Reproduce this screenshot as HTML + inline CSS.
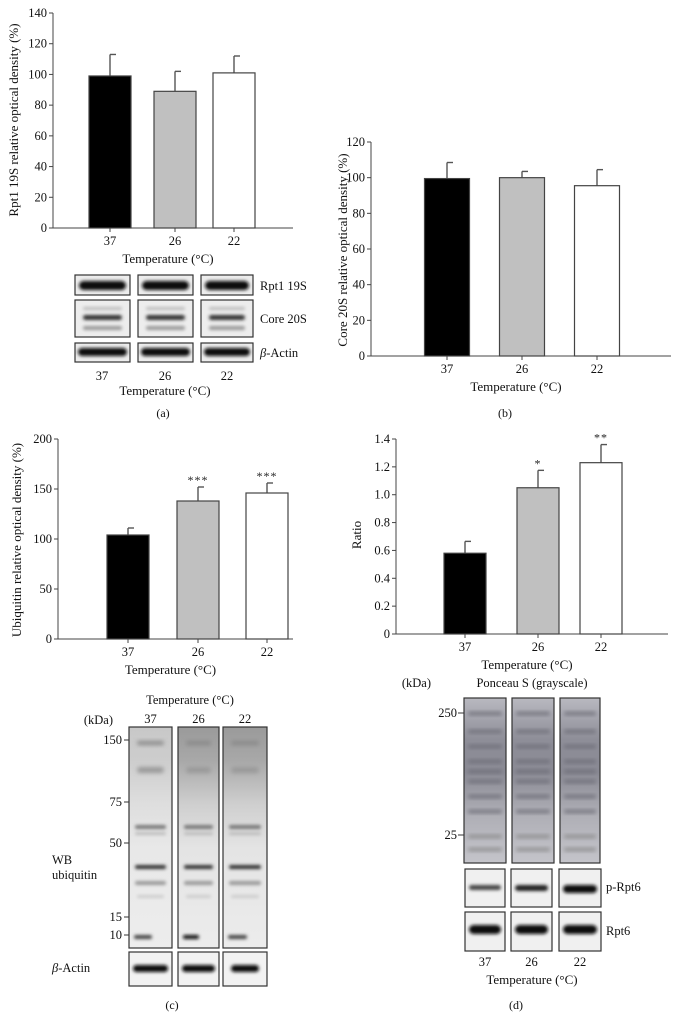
<!DOCTYPE html>
<html><head><meta charset="utf-8">
<style>
html,body{margin:0;padding:0;background:#fff;}
svg{display:block;font-family:"Liberation Serif",serif;}
</style></head>
<body>
<svg id="fig" width="680" height="1031" viewBox="0 0 680 1031" xmlns="http://www.w3.org/2000/svg">
<defs>
<filter id="blur1" x="-20%" y="-80%" width="140%" height="260%"><feGaussianBlur stdDeviation="1.5"/></filter>
<filter id="blur2" x="-20%" y="-80%" width="140%" height="260%"><feGaussianBlur stdDeviation="2.2"/></filter>
<linearGradient id="smearA" x1="0" y1="0" x2="0" y2="1">
<stop offset="0" stop-color="#c8c8c8"/><stop offset="0.15" stop-color="#cdcdcd"/><stop offset="0.35" stop-color="#dedede"/><stop offset="0.55" stop-color="#e8e8e8"/><stop offset="1" stop-color="#ededed"/></linearGradient>
<linearGradient id="smearB" x1="0" y1="0" x2="0" y2="1">
<stop offset="0" stop-color="#9a9a9a"/><stop offset="0.15" stop-color="#a8a8a8"/><stop offset="0.35" stop-color="#cfcfcf"/><stop offset="0.55" stop-color="#e4e4e4"/><stop offset="1" stop-color="#ececec"/></linearGradient>
<linearGradient id="ponc" x1="0" y1="0" x2="0" y2="1">
<stop offset="0" stop-color="#b9b9c0"/><stop offset="0.25" stop-color="#8e8e98"/><stop offset="0.45" stop-color="#8a8a94"/><stop offset="0.7" stop-color="#aeaeb5"/><stop offset="1" stop-color="#c4c4ca"/></linearGradient>
</defs>
<g id="charts"></g>
<g id="blots"></g>
</svg>
<script>
// ---- Chart data ----
const categories = ["37", "26", "22"];
const fills = ["#000000", "#c0c0c0", "#ffffff"];
const rpt1Values = [99, 89, 101];
const rpt1Errors = [14, 13, 11];
const rpt1Ticks = ["0","20","40","60","80","100","120","140"];
const core20Values = [99.5, 100, 95.5];
const core20Errors = [9, 3.5, 9];
const core20Ticks = ["0","20","40","60","80","100","120"];
const ubqValues = [104, 138, 146];
const ubqErrors = [7, 14, 10];
const ubqTicks = ["0","50","100","150","200"];
const ubqStars = ["", "***", "***"];
const ratioValues = [0.58, 1.05, 1.23];
const ratioErrors = [0.085, 0.125, 0.13];
const ratioTicks = ["0","0.2","0.4","0.6","0.8","1.0","1.2","1.4"];
const ratioStars = ["", "*", "**"];

const NS = "http://www.w3.org/2000/svg";
function mk(tag, attrs, parent, text){
  const e = document.createElementNS(NS, tag);
  for (const k in attrs) e.setAttribute(k, attrs[k]);
  if (text !== undefined) e.textContent = text;
  parent.appendChild(e);
  return e;
}
const chartsG = document.getElementById('charts');

function drawChart(o){
  const g = mk('g', {}, chartsG);
  
  
  const maxV = parseFloat(o.ticks[o.ticks.length-1]);
  const y = v => o.y0 - (v / maxV) * (o.y0 - o.yTop);
  const x = i => o.bars[i];
  const ax = mk('line', {x1:o.x0, y1:o.yTop, x2:o.x0, y2:o.y0, stroke:'#444', 'stroke-width':1}, g);
  
  
  const xa = mk('line', {x1:o.x0, y1:o.y0, x2:o.x1, y2:o.y0, stroke:'#444', 'stroke-width':1}, g);
  
  
  o.ticks.forEach(t => {
    const yy = y(parseFloat(t));
    mk('line', {x1:o.x0-4, y1:yy, x2:o.x0, y2:yy, stroke:'#444'}, g);
    const tl = mk('text', {x:o.x0-6, y:yy+4, 'font-size':12.5, 'text-anchor':'end', fill:'#111'}, g, t);
    
    
  });
  o.values.forEach((v, i) => {
    const cx = x(i), hw = o.bw/2;
    const top = y(v);
    const eb = mk('line', {x1:cx, y1:y(v + o.errors[i]), x2:cx, y2:top, stroke:'#555', 'stroke-width':1.4}, g);
    
    
    mk('line', {x1:cx, y1:y(v + o.errors[i]), x2:cx+6, y2:y(v + o.errors[i]), stroke:'#555', 'stroke-width':1.4}, g);
    const r = mk('rect', {x:cx-hw, y:top, width:o.bw, height:o.y0-top, fill:fills[i], stroke:'#444', 'stroke-width':1.2}, g);
    
    
    mk('line', {x1:cx, y1:o.y0, x2:cx, y2:o.y0+4, stroke:'#444'}, g);
    const cl = mk('text', {x:cx, y:o.y0+17, 'font-size':12.5, 'text-anchor':'middle', fill:'#111'}, g, categories[i]);
    
    
    if (o.stars && o.stars[i]) {
      const s = mk('text', {x:cx, y:y(v + o.errors[i]) - 3, 'font-size':12, 'text-anchor':'middle', fill:'#222', 'letter-spacing':'1'}, g, o.stars[i]);
      
      
    }
  });
  const xt = mk('text', {x:(o.x0+o.x1)/2 - 5, y:o.y0+35, 'font-size':13, 'text-anchor':'middle', fill:'#111'}, g, 'Temperature (°C)');
  
  
  const yt = mk('text', {x:0, y:0, 'font-size':13, 'text-anchor':'middle', fill:'#111', transform:`translate(${o.ytx},${o.yty}) rotate(-90)`}, g, o.ytitle);
  
  
}

drawChart({name:'chart-rpt1', x0:53, x1:293, y0:228, yTop:13, bars:[110,175,234], bw:42,
  values:rpt1Values, errors:rpt1Errors, ticks:rpt1Ticks, ytitle:'Rpt1 19S relative optical density (%)', ytx:18, yty:120});
drawChart({name:'chart-core20s', x0:371, x1:671, y0:356, yTop:142, bars:[447,522,597], bw:45,
  values:core20Values, errors:core20Errors, ticks:core20Ticks, ytitle:'Core 20S relative optical density (%)', ytx:347, yty:250});
drawChart({name:'chart-ubiquitin', x0:58, x1:293, y0:639, yTop:439, bars:[128,198,267], bw:42,
  values:ubqValues, errors:ubqErrors, ticks:ubqTicks, stars:ubqStars, ytitle:'Ubiquitin relative optical density (%)', ytx:21, yty:540});
drawChart({name:'chart-ratio', x0:396, x1:668, y0:634, yTop:439, bars:[465,538,601], bw:42,
  values:ratioValues, errors:ratioErrors, ticks:ratioTicks, stars:ratioStars, ytitle:'Ratio', ytx:361, yty:535});

// ---- Blots (decorative images) ----
const B = document.getElementById('blots');
function frame(x,y,w,h,name,fill){
  const r = mk('rect',{x:x,y:y,width:w,height:h,fill:fill||'#ededed',stroke:'#333','stroke-width':1.2},B);
  
  
  return r;
}
function band(x,y,w,h,col,f){
  mk('rect',{x:x,y:y,width:w,height:h,rx:h/2,fill:col,filter:'url(#'+(f||'blur1')+')'},B);
}
function txt(x,y,s,t,anchor,name){
  const e = mk('text',{x:x,y:y,'font-size':s,'text-anchor':anchor||'middle',fill:'#111'},B,t);
  
  
  return e;
}
// panel a blots
[[75,55],[138,55],[201,52]].forEach(([x,w],i)=>{
  frame(x,275,w,20,'rpt1-blot-lane');
  band(x+4,281,w-8,9,'#111');
  frame(x,300,w,37,'core20s-blot-lane');
  band(x+8,307,w-16,3,'#bbb'); band(x+8,315,w-16,5,'#333'); band(x+8,326,w-16,4,'#999');
  frame(x,343,w,19,'actin-blot-lane');
  band(x+3,348,w-6,8,'#111');
});
txt(260,290,12.5,'Rpt1 19S','start','rpt1-label');
txt(260,323,12.5,'Core 20S','start','core20s-label');
const ba = txt(260,357,12.5,'','start','actin-label-a');
ba.innerHTML = '<tspan font-style="italic">β</tspan>-Actin';
txt(102,380,12.5,'37','middle','lane-label'); txt(165,380,12.5,'26','middle','lane-label'); txt(227,380,12.5,'22','middle','lane-label');
txt(165,395,13,'Temperature (°C)','middle','blot-x-title');
txt(163,417,12,'(a)','middle','panel-label-a');
txt(505,417,12,'(b)','middle','panel-label-b');

// panel c blots
txt(190,704,12.5,'Temperature (°C)','middle','blot-c-title');
[[129,43,'url(#smearA)'],[178,41,'url(#smearB)'],[223,44,'url(#smearB)']].forEach(([x,w,f],i)=>{
  frame(x,727,w,221,'ubiquitin-blot-lane',f);
  band(x+8,741,w-16,4,'#888','blur2'); band(x+8,767,w-16,6,'#999','blur2');
  band(x+6,825,w-12,4,'#777'); band(x+6,832,w-12,3,'#bbb');
  band(x+6,865,w-12,4,'#333'); band(x+6,881,w-12,4,'#999'); band(x+8,895,w-16,3,'#ccc');
  band(x+5,935,w-25,4,i==1?'#111':'#444');
  frame(x,952,w,34,'actin-blot-lane-c','#f2f2f2');
  band(x+(i==2?8:4),965,w-(i==2?16:8),7,'#111');
  txt(x+w/2,723,12.5,categories[i],'middle','lane-label');
});
txt(113,724,12.5,'(kDa)','end','kda-label');
[[740,'150'],[802,'75'],[843,'50'],[917,'15'],[935,'10']].forEach(([yy,t])=>{
  mk('line',{x1:124,y1:yy,x2:129,y2:yy,stroke:'#333'},B);
  txt(122,yy+4,12.5,t,'end','kda-marker');
});
txt(52,864,12.5,'WB','start','wb-label'); txt(52,879,12.5,'ubiquitin','start','wb-label');
const bc = txt(52,972,12.5,'','start','actin-label-c');
bc.innerHTML = '<tspan font-style="italic">β</tspan>-Actin';
txt(172,1009,12,'(c)','middle','panel-label-c');

// panel d blots
txt(431,687,12.5,'(kDa)','end','kda-label-d');
txt(532,687,12.5,'Ponceau S (grayscale)','middle','ponceau-title');
[[464,42],[512,42],[560,40]].forEach(([x,w],i)=>{
  frame(x,698,w,165,'ponceau-lane','url(#ponc)');
  [712,730,745,760,770,780,795,810,835,848].forEach((yy,k)=>band(x+4,yy,w-8,3,k>7?'#888':'#6a6a75','blur2'));
});
[[465,40],[511,41],[559,42]].forEach(([x,w],i)=>{
  frame(x,869,w,38,'p-rpt6-lane','#f0f0f0');
  band(x+4,885,w-8,[5,6,8][i],['#444','#222','#111'][i]);
  frame(x,912,w,39,'rpt6-lane','#f0f0f0');
  band(x+4,925,w-8,9,'#111');
  txt(x+w/2,966,12.5,categories[i],'middle','lane-label');
});
txt(606,891,12.5,'p-Rpt6','start','p-rpt6-label');
txt(606,935,12.5,'Rpt6','start','rpt6-label');
[[713,'250'],[835,'25']].forEach(([yy,t])=>{
  mk('line',{x1:458,y1:yy,x2:464,y2:yy,stroke:'#333'},B);
  txt(457,yy+4,12.5,t,'end','kda-marker');
});
txt(532,984,13,'Temperature (°C)','middle','blot-d-title');
txt(516,1009,12,'(d)','middle','panel-label-d');
</script>
</body></html>
